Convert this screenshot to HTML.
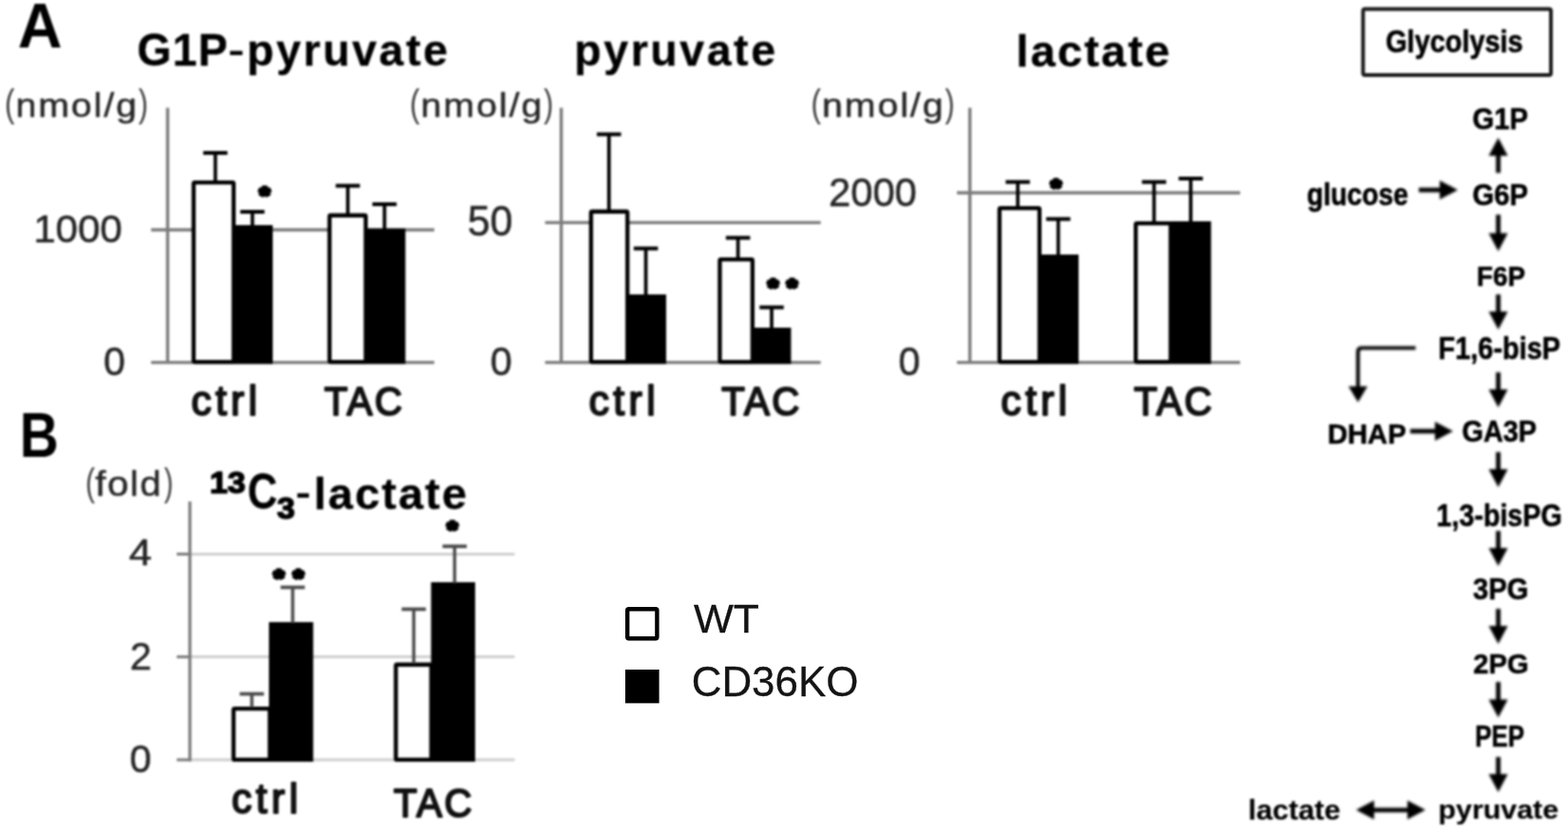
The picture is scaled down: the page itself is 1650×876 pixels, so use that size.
<!DOCTYPE html>
<html lang="en">
<head>
<meta charset="utf-8">
<title>Glycolysis metabolites in WT and CD36KO hearts</title>
<style>
html, body { margin: 0; padding: 0; background: #ffffff; }
body { width: 1650px; height: 876px; overflow: hidden; }
#figure { position: relative; width: 1650px; height: 876px; overflow: hidden; background: #ffffff; }
svg.layer { position: absolute; left: 0; top: 0; display: block; }
text { font-family: "Liberation Sans", sans-serif; font-size: 100px; white-space: pre; }
</style>
</head>
<body>
<div id="figure">
<svg class="layer" id="layer-main" width="1650" height="876" viewBox="0 0 1650 876" style="filter:blur(1.1px)">
<rect x="0" y="0" width="1650" height="876" fill="#ffffff"/>
<g class="shapes">
<line x1="159.00" y1="242.00" x2="457.00" y2="242.00" stroke="#7c7c7c" stroke-width="3.4" stroke-linecap="butt"/>
<line x1="159.00" y1="381.60" x2="457.00" y2="381.60" stroke="#7c7c7c" stroke-width="3.4" stroke-linecap="butt"/>
<line x1="176.40" y1="113.60" x2="176.40" y2="383.10" stroke="#7c7c7c" stroke-width="3.4" stroke-linecap="butt"/>
<rect x="203.75" y="192.15" width="42.10" height="188.90" fill="#fff" stroke="#000000" stroke-width="4.3" rx="1.2" stroke-linejoin="round"/>
<rect x="245.00" y="237.00" width="42.00" height="146.20" fill="#000000"/>
<rect x="346.75" y="226.75" width="38.10" height="154.30" fill="#fff" stroke="#000000" stroke-width="4.3" rx="1.2" stroke-linejoin="round"/>
<rect x="384.00" y="240.60" width="42.60" height="142.60" fill="#000000"/>
<line x1="226.60" y1="161.00" x2="226.60" y2="191.00" stroke="#000" stroke-width="3.7" stroke-linecap="butt"/>
<line x1="213.85" y1="161.00" x2="239.35" y2="161.00" stroke="#000" stroke-width="4.0" stroke-linecap="butt"/>
<line x1="265.60" y1="223.00" x2="265.60" y2="238.00" stroke="#000" stroke-width="3.7" stroke-linecap="butt"/>
<line x1="252.85" y1="223.00" x2="278.35" y2="223.00" stroke="#000" stroke-width="4.0" stroke-linecap="butt"/>
<line x1="366.00" y1="195.60" x2="366.00" y2="225.60" stroke="#000" stroke-width="3.7" stroke-linecap="butt"/>
<line x1="353.25" y1="195.60" x2="378.75" y2="195.60" stroke="#000" stroke-width="4.0" stroke-linecap="butt"/>
<line x1="404.60" y1="215.00" x2="404.60" y2="241.60" stroke="#000" stroke-width="3.7" stroke-linecap="butt"/>
<line x1="391.85" y1="215.00" x2="417.35" y2="215.00" stroke="#000" stroke-width="4.0" stroke-linecap="butt"/>
<line x1="573.60" y1="234.40" x2="863.60" y2="234.40" stroke="#7c7c7c" stroke-width="3.4" stroke-linecap="butt"/>
<line x1="573.60" y1="381.60" x2="863.60" y2="381.60" stroke="#7c7c7c" stroke-width="3.4" stroke-linecap="butt"/>
<line x1="590.60" y1="113.60" x2="590.60" y2="383.10" stroke="#7c7c7c" stroke-width="3.4" stroke-linecap="butt"/>
<rect x="621.95" y="222.75" width="38.30" height="158.30" fill="#fff" stroke="#000000" stroke-width="4.3" rx="1.2" stroke-linejoin="round"/>
<rect x="659.00" y="310.00" width="42.00" height="73.20" fill="#000000"/>
<rect x="757.45" y="273.15" width="34.40" height="107.90" fill="#fff" stroke="#000000" stroke-width="4.3" rx="1.2" stroke-linejoin="round"/>
<rect x="791.00" y="345.00" width="41.40" height="38.20" fill="#000000"/>
<line x1="640.80" y1="141.40" x2="640.80" y2="222.00" stroke="#000" stroke-width="3.7" stroke-linecap="butt"/>
<line x1="628.05" y1="141.40" x2="653.55" y2="141.40" stroke="#000" stroke-width="4.0" stroke-linecap="butt"/>
<line x1="679.60" y1="261.60" x2="679.60" y2="311.00" stroke="#000" stroke-width="3.7" stroke-linecap="butt"/>
<line x1="666.85" y1="261.60" x2="692.35" y2="261.60" stroke="#000" stroke-width="4.0" stroke-linecap="butt"/>
<line x1="776.60" y1="250.40" x2="776.60" y2="272.00" stroke="#000" stroke-width="3.7" stroke-linecap="butt"/>
<line x1="763.85" y1="250.40" x2="789.35" y2="250.40" stroke="#000" stroke-width="4.0" stroke-linecap="butt"/>
<line x1="812.00" y1="323.60" x2="812.00" y2="346.00" stroke="#000" stroke-width="3.7" stroke-linecap="butt"/>
<line x1="799.25" y1="323.60" x2="824.75" y2="323.60" stroke="#000" stroke-width="4.0" stroke-linecap="butt"/>
<line x1="1007.00" y1="203.00" x2="1305.00" y2="203.00" stroke="#7c7c7c" stroke-width="3.4" stroke-linecap="butt"/>
<line x1="1007.00" y1="381.60" x2="1305.00" y2="381.60" stroke="#7c7c7c" stroke-width="3.4" stroke-linecap="butt"/>
<line x1="1020.60" y1="113.60" x2="1020.60" y2="383.10" stroke="#7c7c7c" stroke-width="3.4" stroke-linecap="butt"/>
<rect x="1051.75" y="219.15" width="42.10" height="161.90" fill="#fff" stroke="#000000" stroke-width="4.3" rx="1.2" stroke-linejoin="round"/>
<rect x="1093.00" y="268.00" width="42.00" height="115.20" fill="#000000"/>
<rect x="1195.15" y="235.15" width="36.70" height="145.90" fill="#fff" stroke="#000000" stroke-width="4.3" rx="1.2" stroke-linejoin="round"/>
<rect x="1232.00" y="233.00" width="42.40" height="150.20" fill="#000000"/>
<line x1="1071.00" y1="191.60" x2="1071.00" y2="218.00" stroke="#000" stroke-width="3.7" stroke-linecap="butt"/>
<line x1="1058.25" y1="191.60" x2="1083.75" y2="191.60" stroke="#000" stroke-width="4.0" stroke-linecap="butt"/>
<line x1="1113.60" y1="230.60" x2="1113.60" y2="269.00" stroke="#000" stroke-width="3.7" stroke-linecap="butt"/>
<line x1="1100.85" y1="230.60" x2="1126.35" y2="230.60" stroke="#000" stroke-width="4.0" stroke-linecap="butt"/>
<line x1="1214.40" y1="191.60" x2="1214.40" y2="234.00" stroke="#000" stroke-width="3.7" stroke-linecap="butt"/>
<line x1="1201.65" y1="191.60" x2="1227.15" y2="191.60" stroke="#000" stroke-width="4.0" stroke-linecap="butt"/>
<line x1="1253.00" y1="188.00" x2="1253.00" y2="234.00" stroke="#000" stroke-width="3.7" stroke-linecap="butt"/>
<line x1="1240.25" y1="188.00" x2="1265.75" y2="188.00" stroke="#000" stroke-width="4.0" stroke-linecap="butt"/>
<line x1="200.00" y1="583.40" x2="541.60" y2="583.40" stroke="#cfcfcf" stroke-width="3" stroke-linecap="butt"/>
<line x1="186.00" y1="583.40" x2="201.00" y2="583.40" stroke="#7a7a7a" stroke-width="3" stroke-linecap="butt"/>
<line x1="200.00" y1="691.60" x2="541.60" y2="691.60" stroke="#cfcfcf" stroke-width="3" stroke-linecap="butt"/>
<line x1="186.00" y1="691.60" x2="201.00" y2="691.60" stroke="#7a7a7a" stroke-width="3" stroke-linecap="butt"/>
<line x1="200.00" y1="800.00" x2="541.60" y2="800.00" stroke="#cfcfcf" stroke-width="3" stroke-linecap="butt"/>
<line x1="186.00" y1="800.00" x2="201.00" y2="800.00" stroke="#7a7a7a" stroke-width="3" stroke-linecap="butt"/>
<line x1="199.80" y1="528.00" x2="199.80" y2="801.50" stroke="#7a7a7a" stroke-width="3.2" stroke-linecap="butt"/>
<rect x="245.75" y="746.15" width="38.10" height="53.70" fill="#fff" stroke="#000000" stroke-width="4.3" rx="1.2" stroke-linejoin="round"/>
<rect x="283.00" y="655.00" width="46.60" height="147.00" fill="#000000"/>
<rect x="416.55" y="699.75" width="37.30" height="100.10" fill="#fff" stroke="#000000" stroke-width="4.3" rx="1.2" stroke-linejoin="round"/>
<rect x="453.60" y="613.00" width="46.40" height="189.00" fill="#000000"/>
<line x1="265.00" y1="730.60" x2="265.00" y2="745.00" stroke="#4a4a4a" stroke-width="3.4" stroke-linecap="butt"/>
<line x1="252.25" y1="730.60" x2="277.75" y2="730.60" stroke="#4a4a4a" stroke-width="3.6999999999999997" stroke-linecap="butt"/>
<line x1="308.00" y1="618.40" x2="308.00" y2="656.00" stroke="#4a4a4a" stroke-width="3.4" stroke-linecap="butt"/>
<line x1="295.25" y1="618.40" x2="320.75" y2="618.40" stroke="#4a4a4a" stroke-width="3.6999999999999997" stroke-linecap="butt"/>
<line x1="435.40" y1="641.40" x2="435.40" y2="698.60" stroke="#4a4a4a" stroke-width="3.4" stroke-linecap="butt"/>
<line x1="422.65" y1="641.40" x2="448.15" y2="641.40" stroke="#4a4a4a" stroke-width="3.6999999999999997" stroke-linecap="butt"/>
<line x1="478.40" y1="575.20" x2="478.40" y2="614.00" stroke="#4a4a4a" stroke-width="3.4" stroke-linecap="butt"/>
<line x1="465.65" y1="575.20" x2="491.15" y2="575.20" stroke="#4a4a4a" stroke-width="3.6999999999999997" stroke-linecap="butt"/>
<rect x="1434.35" y="9.55" width="197.70" height="69.50" fill="#fff" stroke="#1a1a1a" stroke-width="3.9" rx="2" stroke-linejoin="round"/>
</g>
<g class="labels">
<text transform="matrix(0.2821 0 0 0.2368 272.90 213.94)" fill="#000" font-weight="bold" stroke="#000" stroke-width="13.93" stroke-linejoin="round">*</text>
<text transform="matrix(0.2821 0 0 0.2368 807.90 310.74)" fill="#000" font-weight="bold" stroke="#000" stroke-width="13.93" stroke-linejoin="round">*</text>
<text transform="matrix(0.2821 0 0 0.2368 827.90 310.74)" fill="#000" font-weight="bold" stroke="#000" stroke-width="13.93" stroke-linejoin="round">*</text>
<text transform="matrix(0.2821 0 0 0.2368 1105.70 205.94)" fill="#000" font-weight="bold" stroke="#000" stroke-width="13.93" stroke-linejoin="round">*</text>
<text transform="matrix(0.2821 0 0 0.2368 287.90 616.74)" fill="#000" font-weight="bold" stroke="#000" stroke-width="13.93" stroke-linejoin="round">*</text>
<text transform="matrix(0.2821 0 0 0.2368 308.50 616.74)" fill="#000" font-weight="bold" stroke="#000" stroke-width="13.93" stroke-linejoin="round">*</text>
<text transform="matrix(0.2821 0 0 0.2368 470.50 566.34)" fill="#000" font-weight="bold" stroke="#000" stroke-width="13.93" stroke-linejoin="round">*</text>
<text transform="matrix(0.6471 0 0 0.6643 18.71 50.20)" fill="#000" font-weight="bold">A</text>
<text transform="matrix(0.5677 0 0 0.6696 20.79 480.80)" fill="#000" font-weight="bold">B</text>
<text transform="matrix(0.4646 0 0 0.4790 144.29 69.05)" fill="#000" font-weight="bold" stroke="#000" stroke-width="0.64" stroke-linejoin="round" style="letter-spacing:2.52px">G1P</text>
<text transform="matrix(0.5185 0 0 0.3667 239.94 65.03)" fill="#000" font-weight="bold">-</text>
<text transform="matrix(0.4651 0 0 0.4560 259.86 69.15)" fill="#000" font-weight="bold" stroke="#000" stroke-width="0.65" stroke-linejoin="round" style="letter-spacing:5.32px">pyruvate</text>
<text transform="matrix(0.4651 0 0 0.4560 604.36 69.15)" fill="#000" font-weight="bold" stroke="#000" stroke-width="0.65" stroke-linejoin="round" style="letter-spacing:5.47px">pyruvate</text>
<text transform="matrix(0.4702 0 0 0.4610 1069.33 69.65)" fill="#000" font-weight="bold" stroke="#000" stroke-width="0.64" stroke-linejoin="round" style="letter-spacing:4.52px">lactate</text>
<text transform="matrix(0.3395 0 0 0.3099 220.71 518.94)" fill="#000" font-weight="bold" stroke="#000" stroke-width="4.62" stroke-linejoin="round">13</text>
<text transform="matrix(0.4348 0 0 0.5099 260.41 535.34)" fill="#000" font-weight="bold" stroke="#000" stroke-width="0.64" stroke-linejoin="round">C</text>
<text transform="matrix(0.3400 0 0 0.3169 291.57 545.93)" fill="#000" font-weight="bold" stroke="#000" stroke-width="4.57" stroke-linejoin="round">3</text>
<text transform="matrix(0.4815 0 0 0.3833 311.06 532.27)" fill="#000" font-weight="bold">-</text>
<text transform="matrix(0.4702 0 0 0.4610 330.33 535.65)" fill="#000" font-weight="bold" stroke="#000" stroke-width="0.64" stroke-linejoin="round" style="letter-spacing:4.17px">lactate</text>
<text transform="matrix(0.3111 0 0 0.4096 4.93 122.90)" fill="#3a3a3a">(</text>
<text transform="matrix(0.3920 0 0 0.3500 16.40 123.15)" fill="#262626" stroke="#262626" stroke-width="1.35" stroke-linejoin="round" style="letter-spacing:5.05px">nmol/g</text>
<text transform="matrix(0.3000 0 0 0.4096 145.80 122.90)" fill="#3a3a3a">)</text>
<text transform="matrix(0.3111 0 0 0.4096 431.33 122.90)" fill="#3a3a3a">(</text>
<text transform="matrix(0.3920 0 0 0.3500 442.80 123.15)" fill="#262626" stroke="#262626" stroke-width="1.35" stroke-linejoin="round" style="letter-spacing:5.05px">nmol/g</text>
<text transform="matrix(0.3000 0 0 0.4096 572.20 122.90)" fill="#3a3a3a">)</text>
<text transform="matrix(0.3111 0 0 0.4096 853.53 122.90)" fill="#3a3a3a">(</text>
<text transform="matrix(0.3920 0 0 0.3500 865.00 123.15)" fill="#262626" stroke="#262626" stroke-width="1.35" stroke-linejoin="round" style="letter-spacing:5.05px">nmol/g</text>
<text transform="matrix(0.3000 0 0 0.4096 994.40 122.90)" fill="#3a3a3a">)</text>
<text transform="matrix(0.2963 0 0 0.4043 90.02 521.51)" fill="#3a3a3a">(</text>
<text transform="matrix(0.4008 0 0 0.3644 100.35 522.35)" fill="#262626" stroke="#262626" stroke-width="1.31" stroke-linejoin="round" style="letter-spacing:3.76px">fold</text>
<text transform="matrix(0.2857 0 0 0.4043 172.80 521.51)" fill="#3a3a3a">)</text>
<text transform="matrix(0.4206 0 0 0.4085 35.21 254.64)" fill="#242424" stroke="#242424" stroke-width="1.21" stroke-linejoin="round">1000</text>
<text transform="matrix(0.4102 0 0 0.4239 108.92 394.83)" fill="#242424" stroke="#242424" stroke-width="1.20" stroke-linejoin="round">0</text>
<text transform="matrix(0.4275 0 0 0.4366 492.04 247.61)" fill="#242424" stroke="#242424" stroke-width="1.16" stroke-linejoin="round">50</text>
<text transform="matrix(0.4102 0 0 0.4239 515.92 394.83)" fill="#242424" stroke="#242424" stroke-width="1.20" stroke-linejoin="round">0</text>
<text transform="matrix(0.4167 0 0 0.4211 872.07 216.63)" fill="#242424" stroke="#242424" stroke-width="1.19" stroke-linejoin="round">2000</text>
<text transform="matrix(0.4102 0 0 0.4239 945.52 394.83)" fill="#242424" stroke="#242424" stroke-width="1.20" stroke-linejoin="round">0</text>
<text transform="matrix(0.4314 0 0 0.3857 135.69 595.05)" fill="#242424" stroke="#242424" stroke-width="1.23" stroke-linejoin="round">4</text>
<text transform="matrix(0.4109 0 0 0.4143 136.70 705.05)" fill="#242424" stroke="#242424" stroke-width="1.21" stroke-linejoin="round">2</text>
<text transform="matrix(0.4102 0 0 0.4155 136.42 812.83)" fill="#242424" stroke="#242424" stroke-width="1.21" stroke-linejoin="round">0</text>
<text transform="matrix(0.4268 0 0 0.4493 201.29 437.00)" fill="#111" stroke="#111" stroke-width="4.57" stroke-linejoin="round" style="letter-spacing:9.73px">ctrl</text>
<text transform="matrix(0.4268 0 0 0.4493 619.69 437.00)" fill="#111" stroke="#111" stroke-width="4.57" stroke-linejoin="round" style="letter-spacing:10.20px">ctrl</text>
<text transform="matrix(0.4268 0 0 0.4493 1053.29 437.00)" fill="#111" stroke="#111" stroke-width="4.57" stroke-linejoin="round" style="letter-spacing:10.04px">ctrl</text>
<text transform="matrix(0.4020 0 0 0.4232 341.20 437.20)" fill="#111" stroke="#111" stroke-width="4.85" stroke-linejoin="round" style="letter-spacing:5.81px">TAC</text>
<text transform="matrix(0.4020 0 0 0.4232 759.20 437.20)" fill="#111" stroke="#111" stroke-width="4.85" stroke-linejoin="round" style="letter-spacing:5.81px">TAC</text>
<text transform="matrix(0.4020 0 0 0.4232 1193.20 437.20)" fill="#111" stroke="#111" stroke-width="4.85" stroke-linejoin="round" style="letter-spacing:5.81px">TAC</text>
<text transform="matrix(0.4268 0 0 0.4493 243.69 855.60)" fill="#111" stroke="#111" stroke-width="4.57" stroke-linejoin="round" style="letter-spacing:10.20px">ctrl</text>
<text transform="matrix(0.4034 0 0 0.4246 414.19 859.90)" fill="#111" stroke="#111" stroke-width="4.83" stroke-linejoin="round" style="letter-spacing:5.97px">TAC</text>
</g>
</svg>
<svg class="layer" id="layer-path" width="1650" height="876" viewBox="0 0 1650 876" style="filter:blur(1.3px)">
<g class="shapes">

</g>
<g class="labels">
<text transform="matrix(0.2890 0 0 0.3260 1458.14 55.10)" fill="#000000" font-weight="bold" stroke="#000000" stroke-width="1.95" stroke-linejoin="round">Glycolysis</text>
<text transform="matrix(0.2927 0 0 0.3042 1549.53 136.00)" fill="#000000" font-weight="bold" stroke="#000000" stroke-width="2.01" stroke-linejoin="round">G1P</text>
<text transform="matrix(0.2828 0 0 0.3233 1375.17 215.50)" fill="#000000" font-weight="bold" stroke="#000000" stroke-width="1.98" stroke-linejoin="round">glucose</text>
<text transform="matrix(0.2927 0 0 0.3183 1549.53 215.98)" fill="#000000" font-weight="bold" stroke="#000000" stroke-width="1.97" stroke-linejoin="round">G6P</text>
<text transform="matrix(0.2782 0 0 0.3014 1554.03 300.80)" fill="#000000" font-weight="bold" stroke="#000000" stroke-width="2.07" stroke-linejoin="round">F6P</text>
<text transform="matrix(0.2891 0 0 0.3275 1513.57 377.90)" fill="#000000" font-weight="bold" stroke="#000000" stroke-width="1.95" stroke-linejoin="round">F1,6-bisP</text>
<text transform="matrix(0.2920 0 0 0.3042 1396.95 467.00)" fill="#000000" font-weight="bold" stroke="#000000" stroke-width="2.01" stroke-linejoin="round">DHAP</text>
<text transform="matrix(0.2884 0 0 0.3099 1538.55 465.39)" fill="#000000" font-weight="bold" stroke="#000000" stroke-width="2.01" stroke-linejoin="round">GA3P</text>
<text transform="matrix(0.2865 0 0 0.3362 1511.58 553.50)" fill="#000000" font-weight="bold" stroke="#000000" stroke-width="1.93" stroke-linejoin="round">1,3-bisPG</text>
<text transform="matrix(0.2922 0 0 0.3099 1550.12 631.39)" fill="#000000" font-weight="bold" stroke="#000000" stroke-width="1.99" stroke-linejoin="round">3PG</text>
<text transform="matrix(0.2917 0 0 0.3042 1550.23 709.00)" fill="#000000" font-weight="bold" stroke="#000000" stroke-width="2.01" stroke-linejoin="round">2PG</text>
<text transform="matrix(0.2591 0 0 0.3086 1552.15 785.99)" fill="#000000" font-weight="bold" stroke="#000000" stroke-width="2.12" stroke-linejoin="round">PEP</text>
<text transform="matrix(0.3035 0 0 0.2774 1513.58 862.20)" fill="#000000" font-weight="bold" stroke="#000000" stroke-width="0.69" stroke-linejoin="round">pyruvate</text>
<text transform="matrix(0.3059 0 0 0.3027 1313.56 863.20)" fill="#000000" font-weight="bold" stroke="#000000" stroke-width="0.66" stroke-linejoin="round">lactate</text>
</g>
</svg>
<svg class="layer" id="layer-arrows" width="1650" height="876" viewBox="0 0 1650 876" style="filter:blur(1.5px)">
<g class="shapes">
<line x1="1576.60" y1="182.00" x2="1576.60" y2="162.00" stroke="#000000" stroke-width="4.8" stroke-linecap="butt"/>
<polygon points="1566.60,164.00 1586.60,164.00 1576.60,145.00" fill="#000000"/>
<line x1="1576.60" y1="226.00" x2="1576.60" y2="247.60" stroke="#000000" stroke-width="4.8" stroke-linecap="butt"/>
<polygon points="1566.60,245.60 1586.60,245.60 1576.60,264.60" fill="#000000"/>
<line x1="1576.60" y1="310.00" x2="1576.60" y2="330.00" stroke="#000000" stroke-width="4.8" stroke-linecap="butt"/>
<polygon points="1566.60,328.00 1586.60,328.00 1576.60,347.00" fill="#000000"/>
<line x1="1576.60" y1="392.00" x2="1576.60" y2="412.00" stroke="#000000" stroke-width="4.8" stroke-linecap="butt"/>
<polygon points="1566.60,410.00 1586.60,410.00 1576.60,429.00" fill="#000000"/>
<line x1="1576.60" y1="476.00" x2="1576.60" y2="496.00" stroke="#000000" stroke-width="4.8" stroke-linecap="butt"/>
<polygon points="1566.60,494.00 1586.60,494.00 1576.60,513.00" fill="#000000"/>
<line x1="1576.60" y1="559.00" x2="1576.60" y2="579.00" stroke="#000000" stroke-width="4.8" stroke-linecap="butt"/>
<polygon points="1566.60,577.00 1586.60,577.00 1576.60,596.00" fill="#000000"/>
<line x1="1576.60" y1="641.00" x2="1576.60" y2="661.00" stroke="#000000" stroke-width="4.8" stroke-linecap="butt"/>
<polygon points="1566.60,659.00 1586.60,659.00 1576.60,678.00" fill="#000000"/>
<line x1="1576.60" y1="718.00" x2="1576.60" y2="738.40" stroke="#000000" stroke-width="4.8" stroke-linecap="butt"/>
<polygon points="1566.60,736.40 1586.60,736.40 1576.60,755.40" fill="#000000"/>
<line x1="1576.60" y1="797.00" x2="1576.60" y2="817.00" stroke="#000000" stroke-width="4.8" stroke-linecap="butt"/>
<polygon points="1566.60,815.00 1586.60,815.00 1576.60,834.00" fill="#000000"/>
<line x1="1493.00" y1="200.00" x2="1517.00" y2="200.00" stroke="#000000" stroke-width="4.8" stroke-linecap="butt"/>
<polygon points="1515.00,190.00 1515.00,210.00 1534.00,200.00" fill="#000000"/>
<line x1="1484.00" y1="454.00" x2="1512.00" y2="454.00" stroke="#000000" stroke-width="4.8" stroke-linecap="butt"/>
<polygon points="1510.00,444.00 1510.00,464.00 1529.00,454.00" fill="#000000"/>
<path d="M1489.6 366.4 H1433 Q1429 366.4 1429 370.4 V408" fill="none" stroke="#000000" stroke-width="3.9"/>
<polygon points="1419.00,406.80 1439.00,406.80 1429.00,423.60" fill="#000000"/>
<line x1="1440.00" y1="852.80" x2="1487.00" y2="852.80" stroke="#000000" stroke-width="4.8" stroke-linecap="butt"/>
<polygon points="1446.00,842.80 1446.00,862.80 1427.00,852.80" fill="#000000"/>
<polygon points="1481.00,842.80 1481.00,862.80 1500.00,852.80" fill="#000000"/>
</g>
<g class="labels">

</g>
</svg>
<svg class="layer" id="layer-legend" width="1650" height="876" viewBox="0 0 1650 876" style="filter:blur(0.7px)">
<g class="shapes">
<rect x="660.20" y="641.20" width="31.20" height="31.00" fill="#fff" stroke="#000000" stroke-width="4.4" rx="1.5" stroke-linejoin="round"/>
<rect x="658.00" y="705.00" width="35.60" height="35.40" fill="#000000"/>
</g>
<g class="labels">
<text transform="matrix(0.4440 0 0 0.4329 729.95 666.22)" fill="#141414" stroke="#141414" stroke-width="0.68" stroke-linejoin="round">WT</text>
<text transform="matrix(0.4388 0 0 0.4493 727.76 732.80)" fill="#141414" stroke="#141414" stroke-width="0.68" stroke-linejoin="round">CD36KO</text>
</g>
</svg>
</div>
</body>
</html>
